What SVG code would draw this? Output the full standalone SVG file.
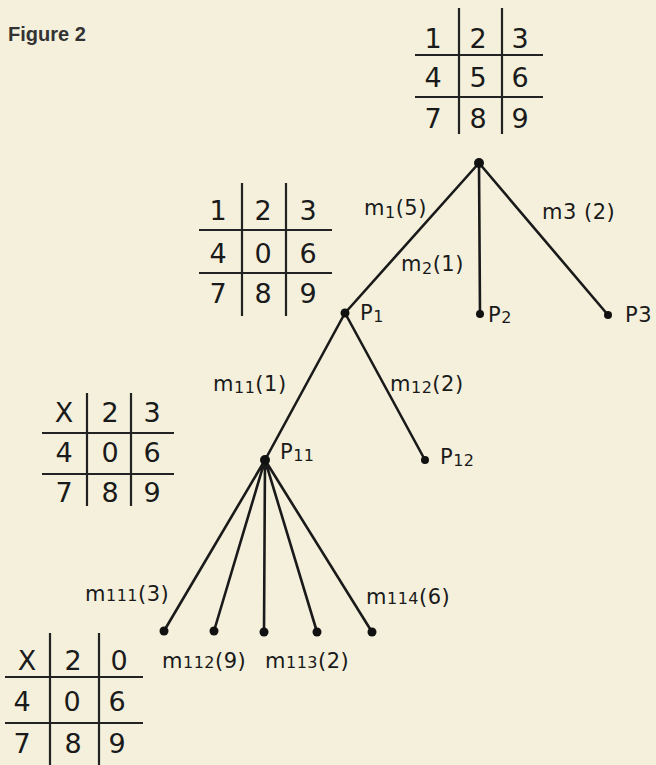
<svg xmlns="http://www.w3.org/2000/svg" width="656" height="765" viewBox="0 0 656 765">
<style>
.bg{fill:#f4f0dc}
.g{stroke:#222;stroke-width:2.2;fill:none}
.e{stroke:#1a1a1a;stroke-width:2.6;fill:none;stroke-linecap:round}
.dot{fill:#111}
.n{font-family:"DejaVu Sans",sans-serif;font-size:27px;fill:#1a1a1a;text-anchor:middle}
.l{font-family:"DejaVu Sans",sans-serif;font-size:21px;fill:#1a1a1a;letter-spacing:0.5px}
.s{font-size:16px}
.t{font-family:"Liberation Sans",Arial,sans-serif;font-size:20px;font-weight:bold;fill:#333}
</style>
<rect class="bg" x="0" y="0" width="656" height="765"/>
<text class="t" x="8" y="41">Figure 2</text>

<g id="board-root">
<path class="g" d="M459,8V134M502,8V134M415,55H543M415,97H543"/>
<text class="n" x="433" y="48">1</text><text class="n" x="478" y="48">2</text><text class="n" x="520" y="48">3</text>
<text class="n" x="433" y="87">4</text><text class="n" x="478" y="87">5</text><text class="n" x="520" y="87">6</text>
<text class="n" x="433" y="128">7</text><text class="n" x="478" y="128">8</text><text class="n" x="520" y="128">9</text>
</g>

<g id="board-p1">
<path class="g" d="M242,183V316M286,183V316M199,230H332M199,273H332"/>
<text class="n" x="218" y="220">1</text><text class="n" x="263" y="220">2</text><text class="n" x="308" y="220">3</text>
<text class="n" x="218" y="263">4</text><text class="n" x="263" y="263">0</text><text class="n" x="308" y="263">6</text>
<text class="n" x="218" y="303">7</text><text class="n" x="263" y="303">8</text><text class="n" x="308" y="303">9</text>
</g>

<g id="board-p11">
<path class="g" d="M87,393V506M131,393V506M42,433H174M42,474H174"/>
<text class="n" x="64" y="422">X</text><text class="n" x="110" y="422">2</text><text class="n" x="152" y="422">3</text>
<text class="n" x="64" y="462">4</text><text class="n" x="110" y="462">0</text><text class="n" x="152" y="462">6</text>
<text class="n" x="64" y="502">7</text><text class="n" x="110" y="502">8</text><text class="n" x="152" y="502">9</text>
</g>

<g id="board-p111">
<path class="g" d="M50,633V765M99,633V765M5,677H143M5,723H143"/>
<text class="n" x="27" y="670">X</text><text class="n" x="73" y="670">2</text><text class="n" x="119" y="670">0</text>
<text class="n" x="22" y="711">4</text><text class="n" x="72" y="711">0</text><text class="n" x="117" y="711">6</text>
<text class="n" x="22" y="753">7</text><text class="n" x="73" y="753">8</text><text class="n" x="117" y="753">9</text>
</g>

<g id="connectors">
<path class="e" d="M479,163L345,313M479,163L480,314M479,163L608,315"/>
<path class="e" d="M345,313L265,460M345,313L425,460"/>
<path class="e" d="M265,460L164,631M265,460L214,631M265,460L264,632M265,460L317,632M265,460L372,632"/>
<text class="l" x="364" y="215">m<tspan class="s" dy="3">1</tspan><tspan dy="-3">(5)</tspan></text>
<text class="l" x="401" y="271">m<tspan class="s" dy="3">2</tspan><tspan dy="-3">(1)</tspan></text>
<text class="l" x="542" y="219" letter-spacing="1.5">m3 (2)</text>
<text class="l" x="213" y="391">m<tspan class="s" dy="2">11</tspan><tspan dy="-2">(1)</tspan></text>
<text class="l" x="390" y="391">m<tspan class="s" dy="2">12</tspan><tspan dy="-2">(2)</tspan></text>
<text class="l" x="85" y="601">m<tspan class="s">111</tspan>(3)</text>
<text class="l" x="162" y="668">m<tspan class="s">112</tspan>(9)</text>
<text class="l" x="265" y="668">m<tspan class="s">113</tspan>(2)</text>
<text class="l" x="366" y="604">m<tspan class="s">114</tspan>(6)</text>
</g>

<g id="root"><circle class="dot" cx="479" cy="163" r="5"/></g>
<g id="P1"><circle class="dot" cx="345" cy="313" r="4.5"/><text class="l" x="360" y="320">P<tspan class="s" dy="2">1</tspan></text></g>
<g id="P2"><circle class="dot" cx="480" cy="314" r="4"/><text class="l" x="488" y="322">P<tspan class="s" dy="1">2</tspan></text></g>
<g id="P3"><circle class="dot" cx="608" cy="315" r="4"/><text class="l" x="625" y="322">P3</text></g>
<g id="P11"><circle class="dot" cx="265" cy="460" r="5"/><text class="l" x="280" y="459">P<tspan class="s" dy="2">11</tspan></text></g>
<g id="P12"><circle class="dot" cx="425" cy="460" r="4"/><text class="l" x="440" y="464">P<tspan class="s" dy="2">12</tspan></text></g>
<g id="P111"><circle class="dot" cx="164" cy="631" r="4.5"/></g>
<g id="P112"><circle class="dot" cx="214" cy="631" r="4.5"/></g>
<g id="P113"><circle class="dot" cx="264" cy="632" r="4.5"/></g>
<g id="P114"><circle class="dot" cx="317" cy="632" r="4.5"/></g>
<g id="P115"><circle class="dot" cx="372" cy="632" r="4.5"/></g>
</svg>
